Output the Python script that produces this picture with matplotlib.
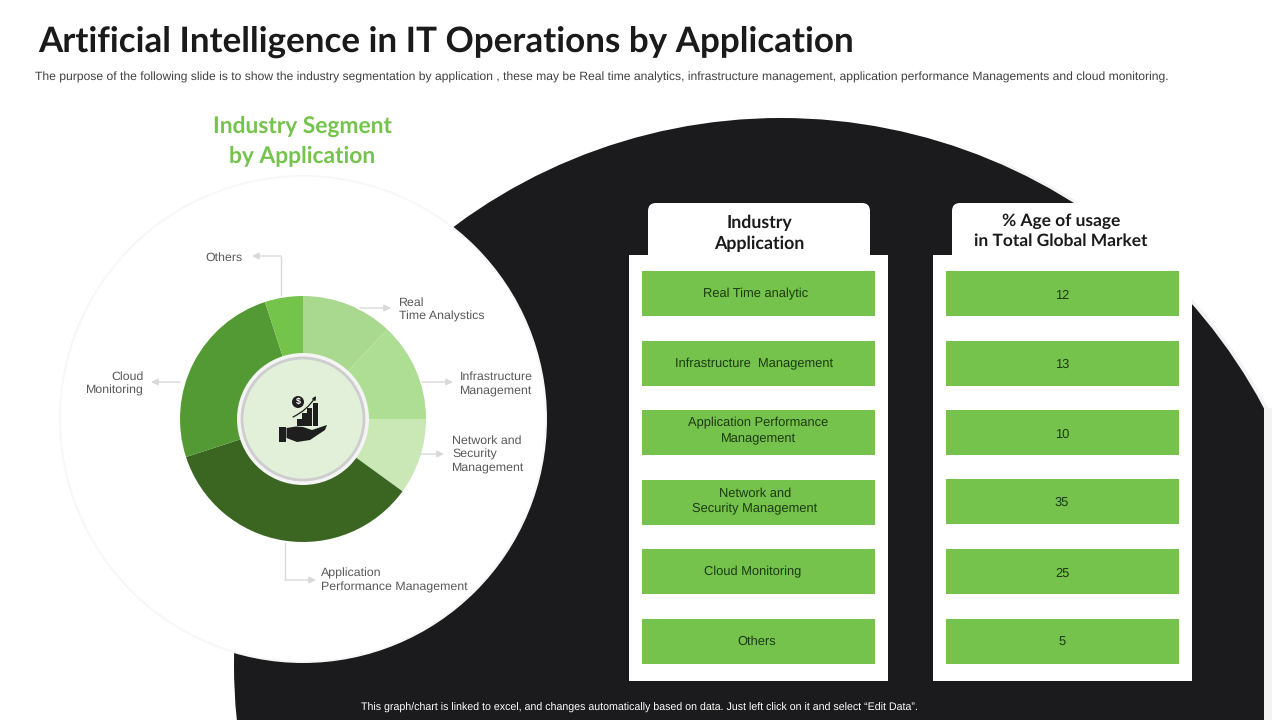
import matplotlib
matplotlib.use('Agg')
import matplotlib.pyplot as plt
from matplotlib.patches import Circle, Rectangle, FancyBboxPatch, Polygon

plt.rcParams['font.family'] = ['Liberation Sans', 'DejaVu Sans']
plt.rcParams['text.hinting'] = 'no_hinting'

# data
segments = ['Real Time analytic', 'Infrastructure  Management', 'Application Performance\nManagement',
            'Network and\nSecurity Management', 'Cloud Monitoring', 'Others']
usage = [12, 13, 10, 35, 25, 5]
slice_colors = ['#A9D98F', '#AEDD94', '#C9E8B5', '#3B6621', '#549A34', '#74C44C']
callouts = ['Real\nTime Analystics', 'Infrastructure\nManagement', 'Network and\nSecurity\nManagement',
            'Application\nPerformance Management', 'Cloud\nMonitoring', 'Others']

GREEN = '#75C34D'
DARK = '#1B1B1D'
H = 720


def Y(py):
    return H - py


fig = plt.figure(figsize=(12.8, 7.2), dpi=100)
ax = fig.add_axes([0, 0, 1, 1])

# big dark circle, cut at the right edge, faint shadow only on the right side
soft = Circle((783, Y(665)), 549, fc='#F3F3F3', ec='none', zorder=1)
ax.add_patch(soft)
soft.set_clip_path(Rectangle((1000, 0), 272, 720, transform=ax.transData))
ax.add_patch(Rectangle((1264, 0), 8, Y(408), fc='#F3F3F3', ec='none', zorder=1))
blob = Circle((781, Y(665)), 547, fc=DARK, ec='none', zorder=2)
ax.add_patch(blob)
blob.set_clip_path(Rectangle((0, 0), 1264, 720, transform=ax.transData))

# white disc behind the donut
ax.add_patch(Circle((303, Y(419)), 244, fc='#F7F7F7', ec='none', zorder=3))
ax.add_patch(Circle((303, Y(419)), 242, fc='white', ec='none', zorder=3))

# donut
ax.pie(usage, colors=slice_colors, startangle=90, counterclock=False, center=(303, Y(419)), radius=123,
       wedgeprops=dict(width=60, edgecolor='none'), frame=True)
for w in ax.patches[-len(usage):]:
    w.set_zorder(4)
ax.add_patch(Circle((303, Y(419)), 66, fc='#F4F4F4', ec='none', zorder=5))
ax.add_patch(Circle((303, Y(419)), 61, fc='#E2F0DA', ec='#CDCDCD', lw=2, zorder=6))

# icon in the middle
ICON = '#1E1E1E'
ax.add_patch(Circle((298, Y(402)), 6, fc=ICON, ec='none', zorder=7))
ax.text(298, Y(402), '$', color='white', fontsize=6.5, fontweight='bold', ha='center', va='center', zorder=8, parse_math=False)
for bx, top in zip([297, 302, 307, 313], [419, 413, 408, 403]):
    ax.add_patch(Rectangle((bx, Y(426)), 4.5, 426 - top, fc=ICON, ec='none', zorder=7))
ax.annotate('', xy=(316, Y(396)), xytext=(293, Y(417)), zorder=7,
            arrowprops=dict(arrowstyle='-|>', color=ICON, lw=0.9, mutation_scale=5,
                            connectionstyle='arc3,rad=0.15', shrinkA=0, shrinkB=0))
ax.add_patch(Rectangle((279, Y(442)), 6.5, 15, fc=ICON, ec='none', zorder=7))
ax.add_patch(Polygon([(286.5, Y(428)), (296, Y(426.5)), (303, Y(427)), (312, Y(430)), (327, Y(425)),
                      (325, Y(430)), (310, Y(440)), (297, Y(442)), (286.5, Y(438))],
                     fc=ICON, ec='none', zorder=7))

# callouts
GREY_LINE = '#D9D9D9'
arrows = [[(360, 308), (391, 308)], [(422, 382), (453, 382)], [(420, 454), (444, 454)],
          [(285, 542), (285, 580), (316, 580)], [(180, 382), (151, 382)], [(281, 296), (281, 256), (252, 256)]]
for pts in arrows:
    xs = [p[0] for p in pts[:-1]]
    ys = [Y(p[1]) for p in pts[:-1]]
    ax.plot(xs, ys, color=GREY_LINE, lw=1, zorder=4, solid_capstyle='butt')
    ax.annotate('', xy=(pts[-1][0], Y(pts[-1][1])), xytext=(pts[-2][0], Y(pts[-2][1])), zorder=4,
                arrowprops=dict(arrowstyle='-|>', color=GREY_LINE, lw=1, mutation_scale=10, shrinkA=0, shrinkB=0))

label_pos = [(399, 309.5, 'left'), (460, 383.5, 'left'), (452, 454.5, 'left'),
             (321, 580.5, 'left'), (144, 383.5, 'right'), (243, 257.5, 'right')]
for txt, (lx, ly, ha) in zip(callouts, label_pos):
    ax.text(lx, Y(ly), txt, fontsize=8.9, color='#595959', ha=ha, va='center', linespacing=1.25,
            multialignment=ha, zorder=5)

# panels and rows
left_rows = [271, 341, 410, 480, 549, 619]
right_rows = [271, 341, 410, 479, 549, 619]
left_text_y = [294, 364, 431, 501, 572, 642]
right_text_y = [296, 365, 435, 503, 574, 643]
left_text_x = [756, 754, 758, 755, 753, 757]
for px, hx in [(629, 648), (933, 952)]:
    ax.add_patch(FancyBboxPatch((hx + 8, Y(255)), 206, 44, boxstyle='round,pad=8,rounding_size=8',
                                fc='white', ec='none', zorder=3))
    ax.add_patch(Rectangle((px, Y(681)), 259, 426, fc='white', ec='none', zorder=4))
for ry, seg, ty, tx in zip(left_rows, segments, left_text_y, left_text_x):
    ax.add_patch(Rectangle((642, Y(ry + 45)), 233, 45, fc=GREEN, ec='none', zorder=5))
    ax.text(tx, Y(ty), seg, fontsize=9.3, color='#1C3A10', ha='center', va='center', linespacing=1.4, zorder=6)
for ry, val, ty in zip(right_rows, usage, right_text_y):
    ax.add_patch(Rectangle((946, Y(ry + 45)), 233, 45, fc=GREEN, ec='none', zorder=5))
    ax.text(1062, Y(ty), str(val), fontsize=9.3, color='#1C3A10', ha='center', va='center', zorder=6)

# headings
HEAD = ['Lato', 'DejaVu Sans']
ax.text(759, Y(233), 'Industry\nApplication', fontsize=12.8, fontweight='bold', family=HEAD, color='#1A1A1A',
        ha='center', va='center', linespacing=1.35, zorder=6)
ax.text(1061, Y(231), '% Age of usage\nin Total Global Market', fontsize=12.5, fontweight='bold', family=HEAD,
        color='#1A1A1A', ha='center', va='center', linespacing=1.4, zorder=6)
ax.text(302, Y(141), 'Industry Segment\nby Application', fontsize=16.4, fontweight='bold', family=HEAD,
        color='#74C44C', ha='center', va='center', linespacing=1.5, zorder=6)
ax.text(38, Y(42), 'Artificial Intelligence in IT Operations by Application', fontsize=25.2, fontweight='bold',
        family=HEAD, color='#1A1A1A', ha='left', va='center', zorder=6)
ax.text(35, Y(77), 'The purpose of the following slide is to show the industry segmentation by application , these may be '
        'Real time analytics, infrastructure management, application performance Managements and cloud monitoring.',
        fontsize=8.69, color='#404040', ha='left', va='center', zorder=6)
ax.text(639, Y(708), 'This graph/chart is linked to excel, and changes automatically based on data. Just left click on it and select \u201cEdit Data\u201d.',
        fontsize=7.7, color='white', ha='center', va='center', zorder=6)

ax.set_xlim(0, 1280)
ax.set_ylim(0, 720)
ax.set_aspect('auto')
ax.axis('off')
fig.savefig('out.png', dpi=100, facecolor='white')
